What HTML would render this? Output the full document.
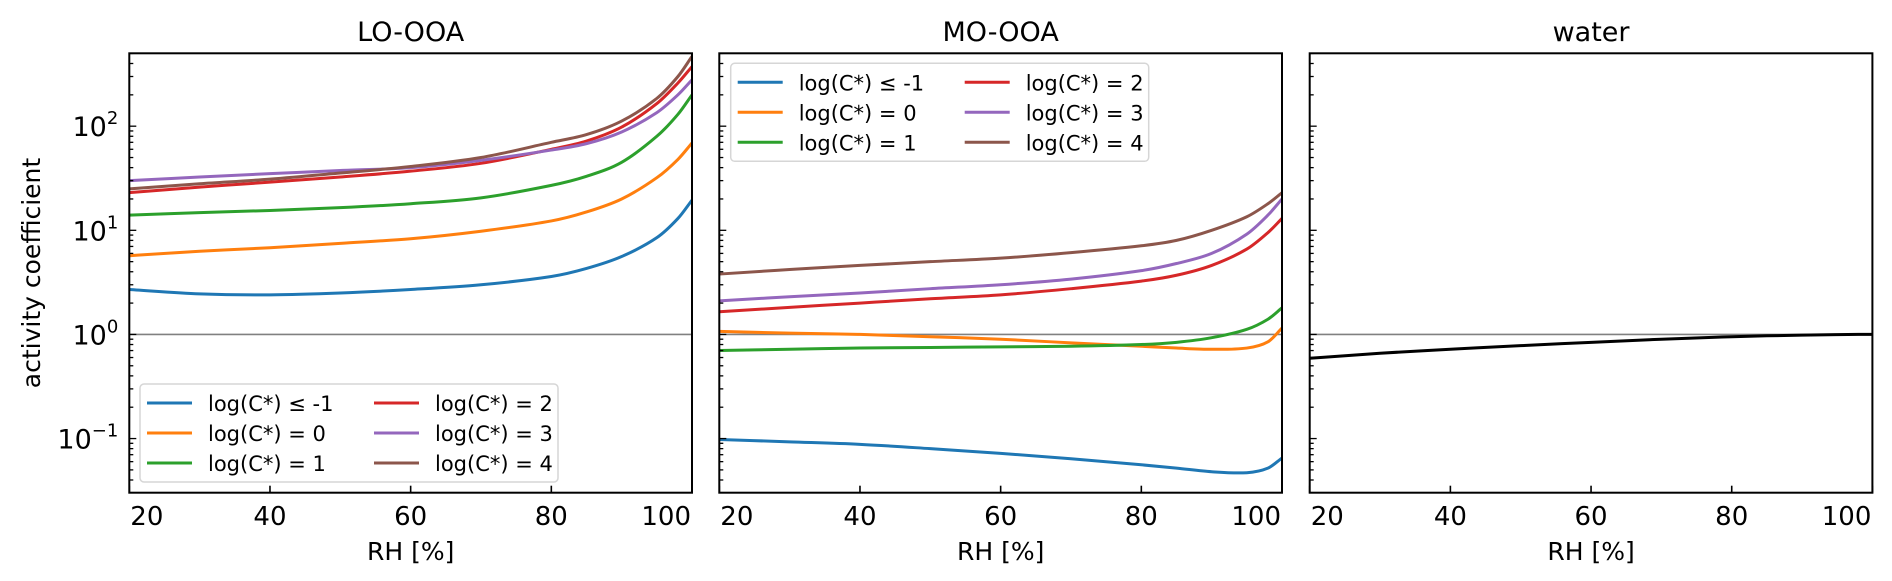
<!DOCTYPE html>
<html><head><meta charset="utf-8">
<style>
html,body{margin:0;padding:0;background:#fff;}
svg{display:block;}
text{font-family:"DejaVu Sans","Liberation Sans",sans-serif;fill:#000;}
</style></head>
<body>
<svg id="chart" width="1892" height="581" viewBox="0 0 1892 581" xmlns="http://www.w3.org/2000/svg">
<text x="33" y="273" font-size="25" text-anchor="middle" dominant-baseline="middle" transform="rotate(-90 33 273)">activity coefficient</text>
</svg>
<script>
// ---- data ----
const rhPoints = [20, 30, 40, 50, 60, 70, 80, 85, 90, 95, 98, 100];
const seriesLabels = ["log(C*) \u2264 -1","log(C*) = 0","log(C*) = 1","log(C*) = 2","log(C*) = 3","log(C*) = 4"];
const seriesColors = ["#1f77b4","#ff7f0e","#2ca02c","#d62728","#9467bd","#8c564b"];
const panelTitles = ["LO-OOA","MO-OOA","water"];
const xTickValues = [20, 40, 60, 80, 100];
const yTickExponents = [-1, 0, 1, 2];

const loBlue   = [2.7, 2.45, 2.4, 2.5, 2.7, 3.0, 3.6, 4.3, 5.6, 8.5, 13, 19.5];
const loOrange = [5.7, 6.3, 6.8, 7.5, 8.3, 9.8, 12.3, 15, 20, 32, 48, 69];
const loGreen  = [14, 14.8, 15.5, 16.5, 18, 20.5, 27, 33, 45, 80, 130, 200];
const loRed    = [23, 26, 29, 32.5, 37, 44, 60, 72, 98, 165, 260, 374];
const loPurple = [30, 32.5, 35, 37.5, 40, 47, 59, 68, 88, 135, 200, 279];
const loBrown  = [25, 28, 31, 35.5, 41, 50, 70, 83, 112, 185, 300, 468];

const moBlue   = [0.098, 0.093, 0.088, 0.080, 0.072, 0.064, 0.056, 0.052, 0.048, 0.047, 0.052, 0.065];
const moOrange = [1.07, 1.03, 1.0, 0.95, 0.9, 0.83, 0.77, 0.74, 0.72, 0.74, 0.85, 1.15];
const moGreen  = [0.70, 0.72, 0.74, 0.75, 0.76, 0.77, 0.80, 0.84, 0.93, 1.12, 1.4, 1.8];
const moRed    = [1.65, 1.82, 2.0, 2.2, 2.4, 2.75, 3.25, 3.7, 4.6, 6.6, 9.5, 13];
const moPurple = [2.1, 2.3, 2.5, 2.75, 3.0, 3.4, 4.1, 4.8, 6.0, 9.2, 14, 20];
const moBrown  = [3.8, 4.2, 4.6, 5.0, 5.4, 6.1, 7.1, 8.0, 10, 13.5, 18, 23];

const waterVals = [0.59, 0.66, 0.72, 0.78, 0.84, 0.90, 0.95, 0.97, 0.985, 0.995, 1.0, 1.0];

const panelSeries = [
  [loBlue, loOrange, loGreen, loRed, loPurple, loBrown],
  [moBlue, moOrange, moGreen, moRed, moPurple, moBrown],
  [waterVals]
];

// ---- layout ----
const NS = "http://www.w3.org/2000/svg";
const svg = document.getElementById("chart");
const panelLefts = [129.3, 719.3, 1309.7];
const panelW = 562.7, plotTop = 53.3, plotBottom = 492.7;
const xMin = 20, xMax = 100, logMin = -1.52, logMax = 2.70;

function mk(tag, attrs, parent) {
  const e = document.createElementNS(NS, tag);
  for (const k in attrs) e.setAttribute(k, attrs[k]);
  (parent || svg).appendChild(e);
  return e;
}
function xScale(p, v) { return panelLefts[p] + (v - xMin) / (xMax - xMin) * panelW; }
function yScale(v) { return plotBottom - (Math.log10(v) - logMin) / (logMax - logMin) * (plotBottom - plotTop); }

// Hermite spline with x-aware slopes (smooth across uneven spacing)
function smoothPath(pts) {
  const n = pts.length, m = [];
  for (let i = 0; i < n; i++) {
    const a = pts[Math.max(0, i - 1)], b = pts[Math.min(n - 1, i + 1)];
    m.push((b[1] - a[1]) / (b[0] - a[0]));
  }
  let d = "M" + pts[0][0].toFixed(2) + "," + pts[0][1].toFixed(2);
  for (let i = 0; i < n - 1; i++) {
    const p1 = pts[i], p2 = pts[i + 1], h = p2[0] - p1[0];
    const c1 = [p1[0] + h / 3, p1[1] + m[i] * h / 3];
    const c2 = [p2[0] - h / 3, p2[1] - m[i + 1] * h / 3];
    d += " C" + c1[0].toFixed(2) + "," + c1[1].toFixed(2) + " " + c2[0].toFixed(2) + "," + c2[1].toFixed(2) + " " + p2[0].toFixed(2) + "," + p2[1].toFixed(2);
  }
  return d;
}

for (let p = 0; p < 3; p++) {
  const L = panelLefts[p], R = L + panelW;
  const g = mk("g", {});
  
  

  const clip = mk("clipPath", { id: "clip" + p }, g);
  mk("rect", { x: L, y: plotTop, width: panelW, height: plotBottom - plotTop }, clip);

  const t = mk("text", { x: L + panelW / 2, y: 41, "font-size": 27, "text-anchor": "middle" }, g);
  t.textContent = panelTitles[p];
  
  

  const ref = mk("line", { x1: L, x2: R, y1: yScale(1), y2: yScale(1), stroke: "#808080", "stroke-width": 1.6 }, g);
  
  

  const cg = mk("g", { "clip-path": "url(#clip" + p + ")" }, g);
  panelSeries[p].forEach((vals, si) => {
    const pts = rhPoints.map((rh, i) => [xScale(p, rh), yScale(vals[i])]);
    const color = p === 2 ? "#000" : seriesColors[si];
    const path = mk("path", { d: smoothPath(pts), fill: "none", stroke: color, "stroke-width": 3 }, cg);
    
    
  });

  xTickValues.forEach((v, i) => {
    const x = xScale(p, v);
    mk("line", { x1: x, x2: x, y1: plotBottom, y2: plotBottom - 7, stroke: "#000", "stroke-width": 1.6 }, g);
    let anchor = "middle", tx = x;
    if (i === 0) { anchor = "start"; tx = L + 1; }
    if (i === xTickValues.length - 1) { anchor = "end"; tx = R - 1; }
    const tl = mk("text", { x: tx, y: 525, "font-size": 26, "text-anchor": anchor }, g);
    tl.textContent = v;
    
    
  });
  const xl = mk("text", { x: L + panelW / 2, y: 560, "font-size": 25, "text-anchor": "middle" }, g);
  xl.textContent = "RH [%]";
  
  

  for (let e = -2; e <= 2; e++) {
    for (let m = 1; m <= 9; m++) {
      const v = m * Math.pow(10, e);
      const lg = Math.log10(v);
      if (lg < logMin || lg > logMax) continue;
      const y = yScale(v);
      mk("line", { x1: L, x2: L + (m === 1 ? 7 : 4), y1: y, y2: y, stroke: "#000", "stroke-width": 1.3 }, g);
    }
  }
  if (p === 0) {
    yTickExponents.forEach(e => {
      const y = yScale(Math.pow(10, e));
      const tl = mk("text", { x: L - 11, y: y + 10, "font-size": 27, "text-anchor": "end" }, g);
      const base = mk("tspan", {}, tl); base.textContent = "10";
      const sup = mk("tspan", { dy: -12, "font-size": 18 }, tl); sup.textContent = e < 0 ? "\u2212" + Math.abs(e) : String(e);
      
      
    });
  }

  const fr = mk("rect", { x: L, y: plotTop, width: panelW, height: plotBottom - plotTop, fill: "none", stroke: "#000", "stroke-width": 2 }, g);
  
  

  if (p < 2) {
    const lx = p === 0 ? 140 : 730.7;
    const ly = p === 0 ? 384 : 63.3;
    const lg = mk("g", {}, g);
    
    
    mk("rect", { x: lx, y: ly, width: 418, height: 98, rx: 4, fill: "#fff", "fill-opacity": 0.85, stroke: "#d6d6d6", "stroke-width": 1.5 }, lg);
    seriesLabels.forEach((lab, si) => {
      const col = Math.floor(si / 3), row = si % 3;
      const ry = ly + 19 + row * 30;
      const hx = lx + 7 + col * 227;
      const entry = mk("g", {}, lg);
      
      
      mk("line", { x1: hx, x2: hx + 45, y1: ry, y2: ry, stroke: seriesColors[si], "stroke-width": 3 }, entry);
      const tx = mk("text", { x: hx + 61, y: ry + 8, "font-size": 21 }, entry);
      tx.textContent = lab;
    });
  }
}
</script>
</body></html>
